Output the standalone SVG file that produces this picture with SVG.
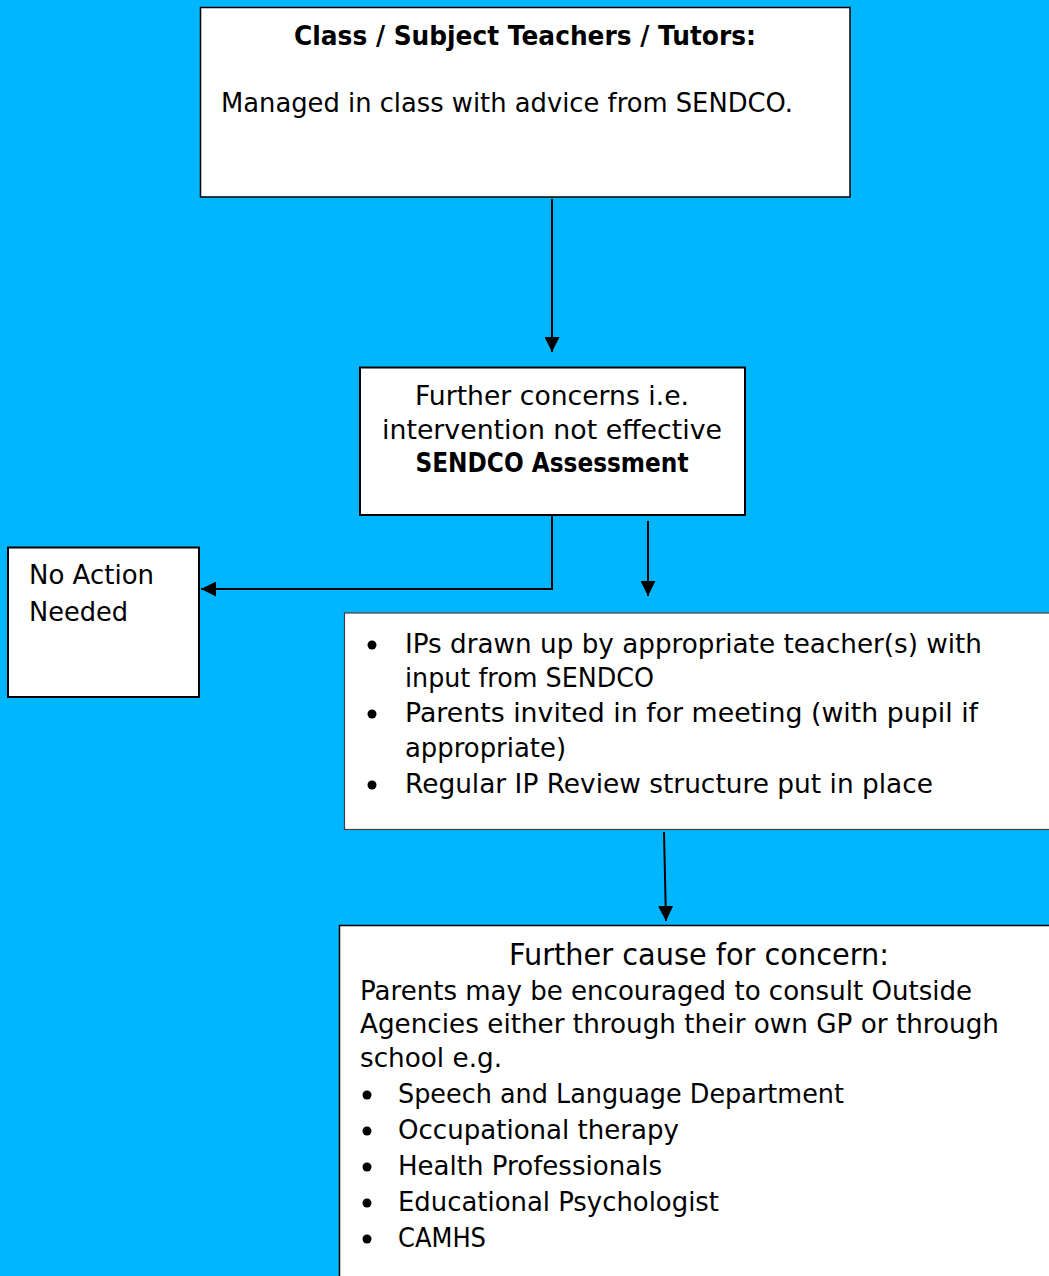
<svg xmlns="http://www.w3.org/2000/svg" width="1049" height="1276" viewBox="0 0 1049 1276">
<style>
.box{fill:#ffffff;stroke:#000000;stroke-width:1.5}
.t{font-family:"DejaVu Sans","Liberation Sans",sans-serif;font-size:27px;fill:#000000}
.b{font-weight:bold}
.c{text-anchor:middle}
.ln{stroke:#000000;stroke-width:2;fill:none}
.dot{fill:#000000}
</style>
<defs>
<marker id="ah" viewBox="0 0 15 15" refX="15" refY="7.5" markerWidth="15" markerHeight="15" markerUnits="userSpaceOnUse" orient="auto">
<path d="M0,0 L15,7.5 L0,15 Z" fill="#000000"/>
</marker>
</defs>
<rect x="0" y="0" width="1049" height="1276" fill="#00b6fe"/>
<g id="connectors">
<line class="ln" x1="552" y1="199" x2="552" y2="352" marker-end="url(#ah)"/>
<polyline class="ln" points="552,516 552,589 201,589" marker-end="url(#ah)"/>
<line class="ln" x1="648" y1="521" x2="648" y2="596" marker-end="url(#ah)"/>
<line class="ln" x1="664" y1="832" x2="666" y2="921" marker-end="url(#ah)"/>
</g>
<g id="node-teachers">
<rect class="box" x="200.5" y="7.5" width="649.5" height="189.5"/>
<text class="t b c" x="525" y="45" style="font-size:26px" textLength="462" lengthAdjust="spacingAndGlyphs">Class / Subject Teachers / Tutors:</text>
<text class="t" x="221" y="112" textLength="572" lengthAdjust="spacingAndGlyphs">Managed in class with advice from SENDCO.</text>
</g>
<g id="node-assessment">
<rect class="box" x="360" y="367.5" width="385" height="147.5" style="stroke-width:2"/>
<text class="t c" x="552" y="405" textLength="274" lengthAdjust="spacingAndGlyphs">Further concerns i.e.</text>
<text class="t c" x="552" y="439" textLength="340" lengthAdjust="spacingAndGlyphs">intervention not effective</text>
<text class="t b c" x="552" y="472" style="font-size:26px" textLength="273" lengthAdjust="spacingAndGlyphs">SENDCO Assessment</text>
</g>
<g id="node-noaction">
<rect class="box" x="8" y="547.5" width="191" height="149.5" style="stroke-width:2"/>
<text class="t" x="29" y="584" textLength="125" lengthAdjust="spacingAndGlyphs">No Action</text>
<text class="t" x="29" y="621" textLength="99" lengthAdjust="spacingAndGlyphs">Needed</text>
</g>
<g id="node-ip">
<rect class="box" x="344.5" y="613" width="710" height="216.5" style="stroke:#404040;stroke-width:1.2"/>
<circle class="dot" cx="372" cy="645" r="4.5"/>
<text class="t" x="405" y="653" textLength="577" lengthAdjust="spacingAndGlyphs">IPs drawn up by appropriate teacher(s) with</text>
<text class="t" x="405" y="687" textLength="249" lengthAdjust="spacingAndGlyphs">input from SENDCO</text>
<circle class="dot" cx="372" cy="714" r="4.5"/>
<text class="t" x="405" y="722" textLength="573" lengthAdjust="spacingAndGlyphs">Parents invited in for meeting (with pupil if</text>
<text class="t" x="405" y="757" textLength="161" lengthAdjust="spacingAndGlyphs">appropriate)</text>
<circle class="dot" cx="372" cy="785" r="4.5"/>
<text class="t" x="405" y="793" textLength="528" lengthAdjust="spacingAndGlyphs">Regular IP Review structure put in place</text>
</g>
<g id="node-outside">
<rect class="box" x="339.5" y="925.5" width="715" height="360"/>
<text class="t c" x="699" y="965" style="font-size:30px" textLength="380" lengthAdjust="spacingAndGlyphs">Further cause for concern:</text>
<text class="t" x="360" y="1000" textLength="612" lengthAdjust="spacingAndGlyphs">Parents may be encouraged to consult Outside</text>
<text class="t" x="360" y="1033" textLength="639" lengthAdjust="spacingAndGlyphs">Agencies either through their own GP or through</text>
<text class="t" x="360" y="1067" textLength="142" lengthAdjust="spacingAndGlyphs">school e.g.</text>
<circle class="dot" cx="367" cy="1095" r="4.5"/>
<text class="t" x="398" y="1103" textLength="446" lengthAdjust="spacingAndGlyphs">Speech and Language Department</text>
<circle class="dot" cx="367" cy="1131" r="4.5"/>
<text class="t" x="398" y="1139" textLength="281" lengthAdjust="spacingAndGlyphs">Occupational therapy</text>
<circle class="dot" cx="367" cy="1167" r="4.5"/>
<text class="t" x="398" y="1175" textLength="264" lengthAdjust="spacingAndGlyphs">Health Professionals</text>
<circle class="dot" cx="367" cy="1203" r="4.5"/>
<text class="t" x="398" y="1211" textLength="321" lengthAdjust="spacingAndGlyphs">Educational Psychologist</text>
<circle class="dot" cx="367" cy="1239" r="4.5"/>
<text class="t" x="398" y="1247" textLength="88" lengthAdjust="spacingAndGlyphs">CAMHS</text>
</g>
</svg>
